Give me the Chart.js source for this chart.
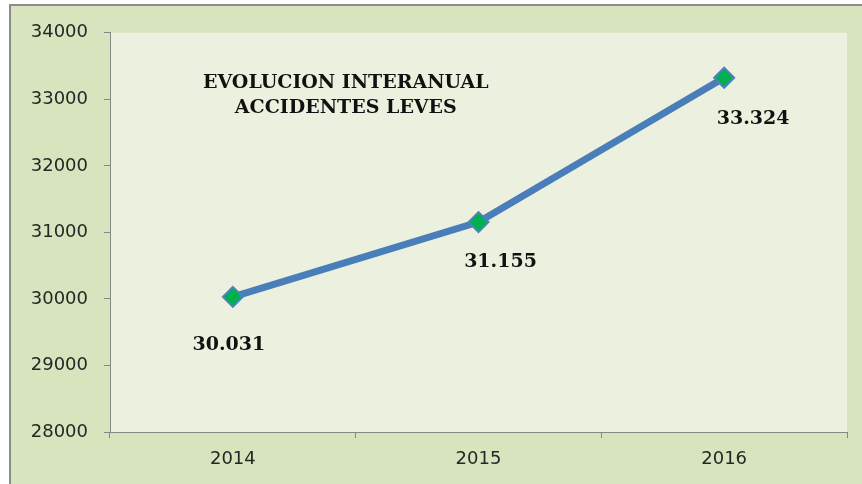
<!DOCTYPE html>
<html>
<head>
<meta charset="utf-8">
<script src="https://cdn.jsdelivr.net/npm/chart.js@4.4.1/dist/chart.umd.min.js"></script>
<style>
    html, body { margin: 0; padding: 0; background: #ffffff; overflow: hidden; }
    #frame {
        position: absolute;
        left: 9px;
        top: 4px;
        width: 853px;
        height: 480px;
        border-top: 2px solid #8c8c8c;
        border-left: 2px solid #8c8c8c;
        background: #d7e4bd;
    }
    #chart { display: block; }
</style>
</head>
<body>
<div id="frame">
    <canvas id="chart" width="853" height="480"></canvas>
</div>
<script>
// Chart data
const years = ['2014', '2015', '2016'];
const accidents = [30031, 31155, 33324];
const valueLabels = ['30.031', '31.155', '33.324'];
const titleLines = ['EVOLUCION INTERANUAL', 'ACCIDENTES LEVES'];

// where each value label sits relative to its point
const labelOffsets = [[-4, 48], [22, 40], [29, 41]];

const axisGray = '#868686';

// fill the plot area only
const plotBackground = {
    id: 'plotBackground',
    beforeDraw(chart) {
        const { ctx, chartArea: a } = chart;
        ctx.save();
        ctx.fillStyle = '#ebf1de';
        ctx.fillRect(a.left, a.top, a.right - a.left, a.bottom - a.top);
        ctx.restore();
    }
};

// title written inside the plot, plus value labels beside the markers
const annotations = {
    id: 'annotations',
    afterDatasetsDraw(chart) {
        const { ctx, chartArea: a } = chart;
        ctx.save();
        ctx.fillStyle = '#111111';
        ctx.textAlign = 'center';
        ctx.textBaseline = 'middle';

        ctx.font = 'bold 19px "DejaVu Serif", serif';
        const cx = a.left + (a.right - a.left) * 0.32;
        titleLines.forEach((line, i) => {
            ctx.fillText(line, cx, a.top + 50 + i * 25);
        });

        ctx.font = 'bold 19px "DejaVu Serif", serif';
        const meta = chart.getDatasetMeta(0);
        meta.data.forEach((pt, i) => {
            const [dx, dy] = labelOffsets[i];
            ctx.fillText(valueLabels[i], pt.x + dx, pt.y + dy);
        });
        ctx.restore();
    }
};

new Chart(document.getElementById('chart'), {
    type: 'line',
    data: {
        labels: years,
        datasets: [{
            data: accidents,
            borderColor: '#4a7ebb',
            borderWidth: 7,
            tension: 0,
            pointStyle: 'rectRot',
            pointRadius: 10,
            pointHoverRadius: 10,
            pointBackgroundColor: '#00b050',
            pointBorderColor: '#4f81bd',
            pointBorderWidth: 2
        }]
    },
    options: {
        responsive: false,
        animation: false,
        layout: { padding: { top: 25, right: 17, left: 0, bottom: 0 } },
        plugins: {
            legend: { display: false },
            tooltip: { enabled: false }
        },
        scales: {
            x: {
                offset: true,
                grid: {
                    offset: true,
                    drawOnChartArea: false,
                    tickLength: 6,
                    color: axisGray
                },
                border: { color: axisGray },
                ticks: {
                    padding: 11,
                    color: '#262626',
                    font: { family: '"DejaVu Sans", sans-serif', size: 18 }
                },
                afterFit(scale) { scale.height = 54; }
            },
            y: {
                min: 28000,
                max: 34000,
                grid: {
                    drawOnChartArea: false,
                    tickLength: 6,
                    color: axisGray
                },
                border: { color: axisGray },
                ticks: {
                    stepSize: 1000,
                    padding: 16,
                    color: '#262626',
                    font: { family: '"DejaVu Sans", sans-serif', size: 18 },
                    callback: v => String(v)
                },
                afterFit(scale) { scale.width = 99; }
            }
        }
    },
    plugins: [plotBackground, annotations]
});
</script>
</body>
</html>
